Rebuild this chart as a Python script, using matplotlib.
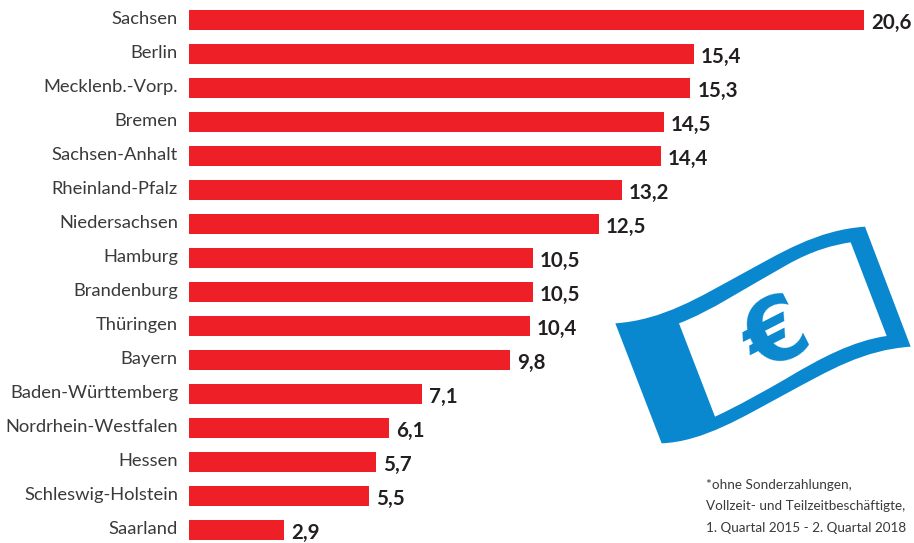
import matplotlib
matplotlib.use("Agg")
import matplotlib.pyplot as plt
from matplotlib.patches import PathPatch
from matplotlib.path import Path

states = ["Sachsen", "Berlin", "Mecklenb.-Vorp.", "Bremen", "Sachsen-Anhalt",
          "Rheinland-Pfalz", "Niedersachsen", "Hamburg", "Brandenburg", "Thüringen",
          "Bayern", "Baden-Württemberg", "Nordrhein-Westfalen", "Hessen",
          "Schleswig-Holstein", "Saarland"]
values = [20.6, 15.4, 15.3, 14.5, 14.4, 13.2, 12.5, 10.5, 10.5, 10.4,
          9.8, 7.1, 6.1, 5.7, 5.5, 2.9]
note_lines = ["*ohne Sonderzahlungen,", "Vollzeit- und Teilzeitbeschäftigte,",
              "1. Quartal 2015 - 2. Quartal 2018"]

RED = "#ee1f26"
BLUE = "#0a88cf"
DARK = "#231f20"
W, H = 914, 543

plt.rcParams["font.family"] = ["Lato", "DejaVu Sans"]

fig = plt.figure(figsize=(W / 100, H / 100), dpi=100)

# bars: one unit is about 32.77 px, rows are 34 px apart
ax = fig.add_axes([189 / W, 0, 675 / W, 1])
rows = list(range(len(states)))
ax.barh(rows, values, height=20 / 34, color=RED, linewidth=0)
ax.set_xlim(0, 20.6)
ax.set_ylim((H - 20) / 34, -20 / 34)
ax.axis("off")

for row, name, val in zip(rows, states, values):
    ax.annotate(name, (0, row), xytext=(-11, 1), textcoords="offset pixels",
                ha="right", va="center", fontsize=13.2, color="#3a3a3c",
                annotation_clip=False)
    ax.annotate(f"{val:.1f}".replace(".", ","), (val, row), xytext=(7, -3),
                textcoords="offset pixels", ha="left", va="center",
                fontsize=14.8, fontweight="bold", color=DARK, annotation_clip=False)

# overlay in pixel coordinates for the banknote and the footnote
over = fig.add_axes([0, 0, 1, 1])
over.set_xlim(0, W)
over.set_ylim(H, 0)
over.axis("off")
over.patch.set_alpha(0)


def note_px(x, y):
    return 600 + x / 3, 210 + y / 3


def curved_shape(points, codes):
    return Path([note_px(*p) for p in points], codes)


C4 = Path.CURVE4
outer = curved_shape(
    [(46, 340), (190, 330), (300, 260), (420, 195), (540, 130), (650, 60), (795, 50),
     (932, 410), (790, 420), (690, 480), (560, 550), (430, 620), (310, 695), (185, 700),
     (46, 340)],
    [Path.MOVETO, C4, C4, C4, C4, C4, C4, Path.LINETO, C4, C4, C4, C4, C4, C4, Path.CLOSEPOLY])
inner = curved_shape(
    [(237, 340), (330, 305), (440, 232), (560, 165), (640, 120), (700, 105), (752, 97),
     (860, 378), (760, 392), (660, 445), (560, 505), (490, 545), (420, 585), (345, 620),
     (237, 340)],
    [Path.MOVETO, C4, C4, C4, C4, C4, C4, Path.LINETO, C4, C4, C4, C4, C4, C4, Path.CLOSEPOLY])
over.add_patch(PathPatch(outer, facecolor=BLUE, edgecolor="none"))
over.add_patch(PathPatch(inner, facecolor="white", edgecolor="none"))
over.text(*note_px(533, 386), "€", color=BLUE, fontsize=64, fontweight="bold",
          family=["DejaVu Sans"], rotation=27, rotation_mode="anchor", ha="center", va="center")

for i, line in enumerate(note_lines):
    over.text(706, 485 + i * 21.5, line, ha="left", va="center", fontsize=9.7, color="#3a3a3c")

fig.savefig("out.png", dpi=100)
